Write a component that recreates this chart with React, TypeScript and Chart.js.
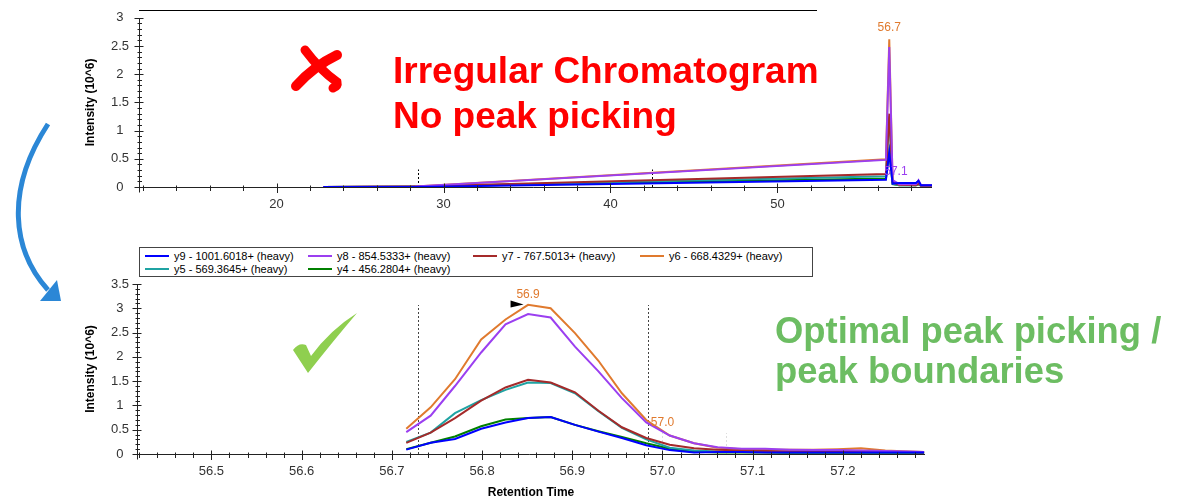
import React, { useEffect, useRef } from 'react';
import { Chart, registerables } from 'chart.js';

Chart.register(...registerables);

const FONT = '"Liberation Sans", Arial, Helvetica, sans-serif';

// ---------- series ----------
const SERIES_NAMES = [
  'y9 - 1001.6018+ (heavy)',
  'y8 - 854.5333+ (heavy)',
  'y7 - 767.5013+ (heavy)',
  'y6 - 668.4329+ (heavy)',
  'y5 - 569.3645+ (heavy)',
  'y4 - 456.2804+ (heavy)',
];
const SERIES_COLORS = ['#0000ff', '#9b3ff0', '#a52a2a', '#e07a2e', '#1fa3a3', '#008000'];

// ---------- top chart (irregular chromatogram) ----------
const TOP_RT = [22.8, 28.3, 56.5, 56.7, 56.9, 57.3, 58.3, 58.45, 58.6, 59.26];
const TOP_Y9 = [0, 0.0, 0.13, 0.62, 0.06, 0.07, 0.07, 0.11, 0.03, 0.03];
const TOP_Y8 = [0, 0.01, 0.48, 2.48, 0.12, 0.05, 0.05, 0.12, 0.03, 0.03];
const TOP_Y7 = [0, 0.01, 0.23, 1.3, 0.08, 0.04, 0.03, 0.06, 0.02, 0.02];
const TOP_Y6 = [0, 0.01, 0.49, 2.62, 0.1, 0.04, 0.04, 0.08, 0.03, 0.03];
const TOP_Y5 = [0, 0.01, 0.19, 1.25, 0.06, 0.03, 0.03, 0.05, 0.02, 0.02];
const TOP_Y4 = [0, 0.01, 0.15, 0.62, 0.05, 0.03, 0.03, 0.05, 0.02, 0.02];

const TOP_X_TICKS = [20, 30, 40, 50];
const TOP_X_LABELS = ['20', '30', '40', '50'];
const TOP_Y_TICKS = [0, 0.5, 1, 1.5, 2, 2.5, 3];
const TOP_Y_LABELS = ['0', '0.5', '1', '1.5', '2', '2.5', '3'];
const TOP_BOUNDARIES_RT = [28.5, 42.5];
const TOP_BOUNDARIES_TOP = [0.31, 0.31];
const TOP_LABEL_TEXT = ['56.7', '57.1'];
const TOP_LABEL_RT = [56.7, 57.1];
const TOP_LABEL_VALUE = [2.83, 0.27];
const TOP_LABEL_SERIES = [3, 1];

// ---------- bottom chart (optimal peak picking) ----------
const BOT_RT = [56.716, 56.743, 56.770, 56.799, 56.826, 56.851, 56.876, 56.903, 56.929, 56.955, 56.982, 57.008, 57.035, 57.061, 57.088, 57.114, 57.141, 57.167, 57.194, 57.220, 57.247, 57.273, 57.290];
const BOT_Y9 = [0.09, 0.23, 0.31, 0.52, 0.65, 0.74, 0.76, 0.60, 0.46, 0.33, 0.18, 0.08, 0.03, 0.04, 0.04, 0.03, 0.03, 0.03, 0.03, 0.03, 0.03, 0.03, 0.03];
const BOT_Y8 = [0.45, 0.79, 1.40, 2.09, 2.67, 2.88, 2.81, 2.21, 1.70, 1.15, 0.65, 0.38, 0.22, 0.14, 0.11, 0.11, 0.09, 0.08, 0.08, 0.07, 0.06, 0.05, 0.04];
const BOT_Y7 = [0.23, 0.44, 0.74, 1.10, 1.37, 1.53, 1.47, 1.27, 0.89, 0.55, 0.33, 0.19, 0.12, 0.09, 0.07, 0.06, 0.05, 0.05, 0.05, 0.05, 0.04, 0.04, 0.03];
const BOT_Y6 = [0.52, 0.96, 1.54, 2.36, 2.77, 3.07, 3.00, 2.49, 1.92, 1.25, 0.70, 0.38, 0.22, 0.13, 0.10, 0.09, 0.09, 0.09, 0.10, 0.12, 0.07, 0.05, 0.04];
const BOT_Y5 = [0.25, 0.44, 0.84, 1.11, 1.32, 1.47, 1.46, 1.25, 0.88, 0.54, 0.30, 0.13, 0.07, 0.05, 0.04, 0.04, 0.03, 0.03, 0.03, 0.03, 0.03, 0.03, 0.03];
const BOT_Y4 = [0.10, 0.23, 0.36, 0.57, 0.71, 0.74, 0.76, 0.60, 0.47, 0.35, 0.22, 0.11, 0.05, 0.03, 0.03, 0.03, 0.02, 0.02, 0.02, 0.02, 0.02, 0.02, 0.02];

const BOT_X_TICKS = [56.5, 56.6, 56.7, 56.8, 56.9, 57.0, 57.1, 57.2];
const BOT_X_LABELS = ['56.5', '56.6', '56.7', '56.8', '56.9', '57.0', '57.1', '57.2'];
const BOT_Y_TICKS = [0, 0.5, 1, 1.5, 2, 2.5, 3, 3.5];
const BOT_Y_LABELS = ['0', '0.5', '1', '1.5', '2', '2.5', '3', '3.5'];
const BOT_BOUNDARIES_RT = [56.7285, 56.984];
const BOT_BOUNDARIES_TOP = [3.07, 3.07];
const BOT_FAINT_RT = [57.0, 57.07];
const BOT_FAINT_TOP = [0.43, 0.43];
const BOT_LABEL_TEXT = ['56.9', '57.0'];
const BOT_LABEL_RT = [56.851, 57.0];
const BOT_LABEL_VALUE = [3.29, 0.64];
const BOT_LABEL_SERIES = [3, 3];
const BOT_APEX_RT = 56.846;
const BOT_APEX_VALUE = 3.08;

// ---------- helpers ----------
function makeDatasets(rt: number[], series: number[][]) {
  return series.map((vals, i) => ({
    label: SERIES_NAMES[i],
    data: rt.map((x, j) => ({ x, y: vals[j] })),
    borderColor: SERIES_COLORS[i],
    backgroundColor: SERIES_COLORS[i],
    borderWidth: 2,
    pointRadius: 0,
    tension: 0,
    fill: false,
  }));
}

function range(from: number, to: number, step: number) {
  const out: number[] = [];
  const n = Math.round((to - from) / step);
  for (let i = 0; i <= n; i++) out.push(+(from + i * step).toFixed(4));
  return out;
}

function labelFor(ticks: number[], labels: string[]) {
  return (v: any) => {
    const i = ticks.findIndex((t) => Math.abs(t - Number(v)) < 1e-6);
    return i >= 0 ? labels[i] : '';
  };
}

const framePlugin = {
  id: 'frame',
  beforeDatasetsDraw(chart: any, _a: any, o: any) {
    const { ctx } = chart;
    const xs = chart.scales.x;
    const ys = chart.scales.y;
    ctx.save();
    (o.dashed || []).forEach((d: any) => {
      const px = Math.round(xs.getPixelForValue(d.rt)) + 0.5;
      ctx.strokeStyle = d.color;
      ctx.lineWidth = 1;
      ctx.setLineDash([2, 2]);
      ctx.beginPath();
      ctx.moveTo(px, ys.getPixelForValue(0));
      ctx.lineTo(px, ys.getPixelForValue(d.top));
      ctx.stroke();
    });
    ctx.restore();
  },
  afterDatasetsDraw(chart: any, _a: any, o: any) {
    const { ctx, chartArea } = chart;
    const xs = chart.scales.x;
    const ys = chart.scales.y;
    const left = Math.round(chartArea.left) + 0.5;
    const bottom = Math.round(chartArea.bottom) + 0.5;
    const right = Math.round(chartArea.right);
    const top = Math.round(chartArea.top);
    ctx.save();
    ctx.setLineDash([]);
    ctx.strokeStyle = '#222';
    ctx.lineWidth = 1;
    ctx.beginPath();
    ctx.moveTo(left - 4, bottom);
    ctx.lineTo(right, bottom);
    ctx.moveTo(left, top);
    ctx.lineTo(left, bottom + 5);
    (o.xMajor || []).forEach((v: number) => {
      const px = Math.round(xs.getPixelForValue(v)) + 0.5;
      ctx.moveTo(px, bottom - 4);
      ctx.lineTo(px, bottom + 5.5);
    });
    (o.xMinor || []).forEach((v: number) => {
      const px = Math.round(xs.getPixelForValue(v)) + 0.5;
      ctx.moveTo(px, bottom - 2);
      ctx.lineTo(px, bottom + 3.5);
    });
    (o.yMajor || []).forEach((v: number) => {
      const py = Math.round(ys.getPixelForValue(v)) + 0.5;
      ctx.moveTo(left - 5, py);
      ctx.lineTo(left + 4, py);
    });
    (o.yMinor || []).forEach((v: number) => {
      const py = Math.round(ys.getPixelForValue(v)) + 0.5;
      ctx.moveTo(left - 2, py);
      ctx.lineTo(left + 2.5, py);
    });
    ctx.stroke();
    if (o.topLine) {
      ctx.strokeStyle = '#000';
      ctx.beginPath();
      ctx.moveTo(left - 0.5, top - 7.5);
      ctx.lineTo(o.topLine, top - 7.5);
      ctx.stroke();
    }

    ctx.font = `12px ${FONT}`;
    ctx.textAlign = 'center';
    ctx.textBaseline = 'middle';
    (o.labels || []).forEach((l: any) => {
      ctx.fillStyle = l.color;
      ctx.fillText(l.text, xs.getPixelForValue(l.rt), ys.getPixelForValue(l.value));
    });
    if (o.apex) {
      const ax = xs.getPixelForValue(o.apex.rt);
      const ay = ys.getPixelForValue(o.apex.value);
      ctx.fillStyle = '#000';
      ctx.beginPath();
      ctx.moveTo(ax - 13, ay - 4);
      ctx.lineTo(ax, ay);
      ctx.lineTo(ax - 13, ay + 3);
      ctx.closePath();
      ctx.fill();
    }
    ctx.restore();
  },
};

const tickFont = { family: FONT, size: 13 };
const tickColor = '#333';

function topConfig(): any {
  return {
    type: 'line',
    data: { datasets: makeDatasets(TOP_RT, [TOP_Y9, TOP_Y8, TOP_Y7, TOP_Y6, TOP_Y5, TOP_Y4]) },
    plugins: [framePlugin],
    options: {
      animation: false,
      responsive: false,
      events: [],
      layout: { padding: { left: 83, right: 261, top: 15, bottom: 0 } },
      plugins: {
        legend: { display: false },
        tooltip: { enabled: false },
        frame: {
          topLine: 817,
          xMajor: TOP_X_TICKS,
          xMinor: range(12, 58, 2).filter((v) => !TOP_X_TICKS.includes(v)),
          yMajor: TOP_Y_TICKS,
          yMinor: range(0, 3, 0.1).filter((v) => !TOP_Y_TICKS.some((t) => Math.abs(t - v) < 1e-6)),
          dashed: TOP_BOUNDARIES_RT.map((rt, i) => ({ rt, top: TOP_BOUNDARIES_TOP[i], color: '#000' })),
          labels: TOP_LABEL_TEXT.map((text, i) => ({ text, rt: TOP_LABEL_RT[i], value: TOP_LABEL_VALUE[i], color: SERIES_COLORS[TOP_LABEL_SERIES[i]] })),
        },
      },
      scales: {
        x: {
          type: 'linear',
          min: 11.76,
          max: 59.26,
          grid: { display: false, drawTicks: false },
          border: { display: false },
          ticks: { padding: 10, font: tickFont, color: tickColor, maxRotation: 0, autoSkip: false, callback: labelFor(TOP_X_TICKS, TOP_X_LABELS) },
          afterBuildTicks: (s: any) => { s.ticks = TOP_X_TICKS.map((value) => ({ value })); },
          afterFit: (s: any) => { s.height = 43; },
        },
        y: {
          type: 'linear',
          min: 0,
          max: 3,
          grid: { display: false, drawTicks: false },
          border: { display: false },
          ticks: { padding: 10, crossAlign: 'center', font: tickFont, color: tickColor, autoSkip: false, callback: labelFor(TOP_Y_TICKS, TOP_Y_LABELS) },
          afterBuildTicks: (s: any) => { s.ticks = TOP_Y_TICKS.map((value) => ({ value })); },
          afterFit: (s: any) => { s.width = 56; },
          title: { display: true, text: 'Intensity (10^6)', color: '#000', font: { family: FONT, size: 12, weight: 'bold' }, padding: 0 },
        },
      },
    },
  };
}

function botConfig(): any {
  return {
    type: 'line',
    data: { datasets: makeDatasets(BOT_RT, [BOT_Y9, BOT_Y8, BOT_Y7, BOT_Y6, BOT_Y5, BOT_Y4]) },
    plugins: [framePlugin],
    options: {
      animation: false,
      responsive: false,
      events: [],
      layout: { padding: { left: 83, right: 268, top: 24, bottom: 0 } },
      plugins: {
        legend: { display: false },
        tooltip: { enabled: false },
        frame: {
          xMajor: BOT_X_TICKS,
          xMinor: range(56.42, 57.28, 0.02).filter((v) => !BOT_X_TICKS.some((t) => Math.abs(t - v) < 1e-6)),
          yMajor: BOT_Y_TICKS,
          yMinor: range(0, 3.5, 0.1).filter((v) => !BOT_Y_TICKS.some((t) => Math.abs(t - v) < 1e-6)),
          dashed: [
            ...BOT_BOUNDARIES_RT.map((rt, i) => ({ rt, top: BOT_BOUNDARIES_TOP[i], color: '#444' })),
            ...BOT_FAINT_RT.map((rt, i) => ({ rt, top: BOT_FAINT_TOP[i], color: '#dddddd' })),
          ],
          labels: BOT_LABEL_TEXT.map((text, i) => ({ text, rt: BOT_LABEL_RT[i], value: BOT_LABEL_VALUE[i], color: SERIES_COLORS[BOT_LABEL_SERIES[i]] })),
          apex: { rt: BOT_APEX_RT, value: BOT_APEX_VALUE },
        },
      },
      scales: {
        x: {
          type: 'linear',
          min: 56.4175,
          max: 57.291,
          grid: { display: false, drawTicks: false },
          border: { display: false },
          ticks: { padding: 10, font: tickFont, color: tickColor, maxRotation: 0, autoSkip: false, callback: labelFor(BOT_X_TICKS, BOT_X_LABELS) },
          afterBuildTicks: (s: any) => { s.ticks = BOT_X_TICKS.map((value) => ({ value })); },
          afterFit: (s: any) => { s.height = 49; },
          title: { display: true, text: 'Retention Time', color: '#000', font: { family: FONT, size: 12, weight: 'bold' }, padding: { top: 0, bottom: 3 } },
        },
        y: {
          type: 'linear',
          min: 0,
          max: 3.5,
          grid: { display: false, drawTicks: false },
          border: { display: false },
          ticks: { padding: 8, crossAlign: 'center', font: tickFont, color: tickColor, autoSkip: false, callback: labelFor(BOT_Y_TICKS, BOT_Y_LABELS) },
          afterBuildTicks: (s: any) => { s.ticks = BOT_Y_TICKS.map((value) => ({ value })); },
          afterFit: (s: any) => { s.width = 54; },
          title: { display: true, text: 'Intensity (10^6)', color: '#000', font: { family: FONT, size: 12, weight: 'bold' }, padding: 0 },
        },
      },
    },
  };
}

const LEGEND_COLS = [5, 168, 333, 500];

export default function App() {
  const topRef = useRef<HTMLCanvasElement>(null);
  const botRef = useRef<HTMLCanvasElement>(null);

  useEffect(() => {
    const c1 = new Chart(topRef.current as HTMLCanvasElement, topConfig());
    const c2 = new Chart(botRef.current as HTMLCanvasElement, botConfig());
    return () => {
      c1.destroy();
      c2.destroy();
    };
  }, []);

  return (
    <div style={{ position: 'absolute', left: 0, top: 0, width: 1193, height: 503, background: '#fff', overflow: 'hidden', fontFamily: FONT }}>
      <canvas ref={topRef} width={1193} height={230} style={{ position: 'absolute', left: 0, top: 0, width: 1193, height: 230 }} />
      <canvas ref={botRef} width={1193} height={243} style={{ position: 'absolute', left: 0, top: 260, width: 1193, height: 243 }} />

      {/* legend */}
      <div style={{ position: 'absolute', left: 139, top: 247, width: 672, height: 28, border: '1px solid #444', background: '#fff' }}>
        {SERIES_NAMES.map((name, i) => {
          const col = i % 4;
          const row = Math.floor(i / 4);
          return (
            <div key={name} style={{ position: 'absolute', left: LEGEND_COLS[col], top: 2 + row * 13, height: 12, display: 'flex', alignItems: 'center', whiteSpace: 'nowrap' }}>
              <div style={{ width: 24, height: 2, background: SERIES_COLORS[i], marginRight: 5 }} />
              <span style={{ fontSize: 11, lineHeight: '12px', color: '#000' }}>{name}</span>
            </div>
          );
        })}
      </div>

      {/* annotations */}
      <div style={{ position: 'absolute', left: 393, top: 48, fontSize: 37, lineHeight: '45px', fontWeight: 'bold', color: '#ff0000', whiteSpace: 'nowrap' }}>
        Irregular Chromatogram<br />No peak picking
      </div>
      <div style={{ position: 'absolute', left: 775, top: 311, fontSize: 36.4, lineHeight: '40px', fontWeight: 'bold', color: '#6cbd62', whiteSpace: 'nowrap' }}>
        Optimal peak picking /<br />peak boundaries
      </div>

      <svg width={1193} height={503} style={{ position: 'absolute', left: 0, top: 0, pointerEvents: 'none' }}>
        {/* red cross */}
        <path d="M305,50 Q320,70 337,82 Q338,86 333,88" stroke="#ff0000" strokeWidth={9} strokeLinecap="round" fill="none" />
        <path d="M337,55 Q314,66 296,86" stroke="#ff0000" strokeWidth={10} strokeLinecap="round" fill="none" />
        {/* green check */}
        <path d="M293,350 Q299,342 306,345 L311,356 Q330,330 357,313 Q334,340 308,373 Z" fill="#8fcf4f" />
        {/* blue curved arrow */}
        <path d="M48,124 C5,190 12,250 48,290" stroke="#2b87d6" strokeWidth={5} fill="none" />
        <polygon points="40,301 61,301 57,280" fill="#2b87d6" />
      </svg>
    </div>
  );
}
